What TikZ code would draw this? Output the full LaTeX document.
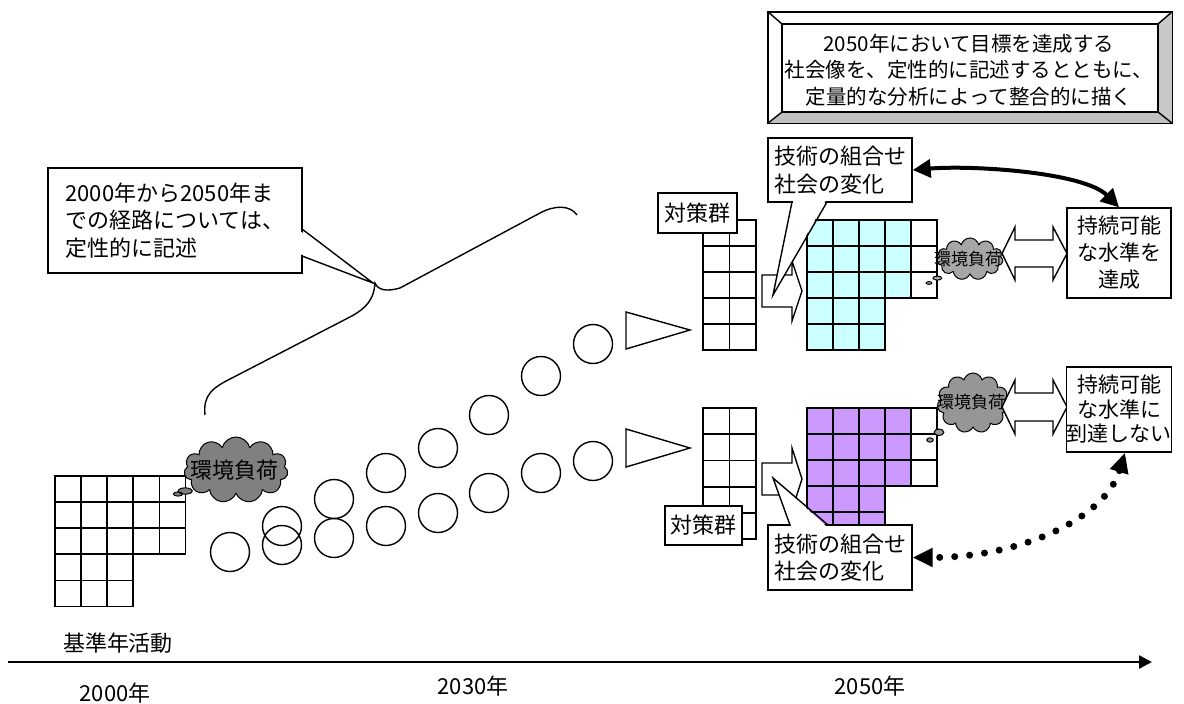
\documentclass[tikz,border=0pt]{standalone}
\usepackage{fontspec}
\setmainfont{Noto Sans CJK JP}
\usetikzlibrary{shapes.callouts,shapes.symbols,arrows.meta}
\definecolor{cyanfill}{HTML}{CCFFFF}
\definecolor{purfill}{HTML}{CC99FF}
\definecolor{cloudA}{HTML}{808080}
\definecolor{cloudB}{HTML}{A6A6A6}
\definecolor{cloudC}{HTML}{969696}
\definecolor{bevbot}{HTML}{C0C0C0}
\definecolor{bevright}{HTML}{C8C8C8}
\begin{document}
\begin{tikzpicture}[x=1pt,y=-1pt]
\tikzset{
  ln/.style={line width=1.4pt},
  cellw/.style={draw, line width=1.8pt},
  box/.style={draw, fill=white, line width=1.4pt, inner sep=0pt, align=center},
  fa/.style={font=\fontsize{21}{27}\selectfont},
  fb/.style={font=\fontsize{22}{27.5}\selectfont},
  fc/.style={font=\fontsize{17}{20}\selectfont},
  fd/.style={font=\fontsize{20.5}{26.7}\selectfont},
  ring/.style={draw, circle, minimum size=39pt, inner sep=0pt, line width=1.4pt},
  puff/.style={cloud callout, cloud puffs=11, cloud ignores aspect, draw, line width=1pt, inner sep=0pt,
     callout pointer start size=.18 of callout, callout pointer end size=.09 of callout},
  shp/.style={draw, line width=1.4pt, fill=white, line join=miter},
  thick arrow/.style={line width=4pt, {Triangle[length=18pt,width=18pt]}-{Triangle[length=18pt,width=18pt]}},
  dot arrow/.style={line width=7pt, line cap=round, dash pattern=on 0pt off 15pt,
     {Triangle[length=20pt,width=18pt]}-{Triangle[length=20pt,width=18pt]}},
}
\useasboundingbox (0,0) rectangle (1184,704);

% brace
\draw[ln] (205,415) .. controls (203,395) and (212,388) .. (232,378) -- (348,318)
  .. controls (368,308) and (374,298) .. (375,283)
  .. controls (378,290) and (386,292) .. (400,288) -- (540,213)
  .. controls (555,205) and (570,205) .. (577,215);

% left callout
\node[box, fb, align=left, minimum width=254pt, minimum height=105pt] (cb) at (175,220.5)
  {2000年から2050年ま\\での経路については、\\定性的に記述};
\fill[white] (300,231) -- (373,283) -- (300,254) -- cycle;
\draw[ln] (302,229) -- (373,283) -- (302,256);

% left grid
\foreach \r in {0,1,2} \foreach \c in {0,...,4}
  \draw[cellw] ({55+\c*26.1},{476+\r*26.1}) rectangle ++(26.1,26.1);
\foreach \r in {3,4} \foreach \c in {0,1,2}
  \draw[cellw] ({55+\c*26.1},{476+\r*26.1}) rectangle ++(26.1,26.1);

% left cloud
\node[puff, fill=cloudA, minimum width=104pt, minimum height=66pt, callout absolute pointer={(178,494)}] (cl0) at (236,470) {};
\node[fb] (cl0t) at (234,470) {環境負荷};

% circles
\foreach \n/\x/\y in {a1/230/552, a2/282/545, a3/334/538, a4/386/526, a5/438/513, a6/489/493, a7/541/473, a8/593/461,
  b1/282/526, b2/334/499, b3/386/473, b4/438/448, b5/489/415, b6/541/376, b7/593/344}
  \node[ring] (\n) at (\x,\y) {};

% wedges
\draw[shp] (626,312) -- (626,349) -- (690,330) -- cycle;
\draw[shp] (626,429) -- (626,467) -- (690,448) -- cycle;

% measure grids
\foreach \r in {0,...,4} \foreach \c in {0,1} {
  \draw[cellw] ({703+\c*26.5},{220+\r*26}) rectangle ++(26.5,26);
  \draw[cellw] ({703+\c*26.5},{408+\r*26.2}) rectangle ++(26.5,26.2);
}
\node[box, fb, minimum width=79pt, minimum height=40pt] (m1) at (697.5,213) {対策群};
\node[box, fb, minimum width=77pt, minimum height=39pt] (m2) at (703.5,525.5) {対策群};

% block arrows
\draw[shp] (762,275) -- (792,275) -- (792,261) -- (802,291) -- (792,321) -- (792,307) -- (762,307) -- cycle;
\draw[shp] (762,463) -- (792,463) -- (792,448) -- (802,479) -- (792,510) -- (792,495) -- (762,495) -- cycle;

% cyan grid
\foreach \r in {0,1,2} {
  \foreach \c in {0,...,3} \draw[cellw, fill=cyanfill] ({807+\c*26},{220+\r*26}) rectangle ++(26,26);
  \draw[cellw, fill=white] ({807+4*26},{220+\r*26}) rectangle ++(26,26);
}
\foreach \r in {3,4} \foreach \c in {0,1,2}
  \draw[cellw, fill=cyanfill] ({807+\c*26},{220+\r*26}) rectangle ++(26,26);

% purple grid
\foreach \r in {0,1,2} {
  \foreach \c in {0,...,3} \draw[cellw, fill=purfill] ({807+\c*26},{408+\r*26}) rectangle ++(26,26);
  \draw[cellw, fill=white] ({807+4*26},{408+\r*26}) rectangle ++(26,26);
}
\foreach \r in {3,4} \foreach \c in {0,1,2}
  \draw[cellw, fill=purfill] ({807+\c*26},{408+\r*26}) rectangle ++(26,26);

% technology callouts
\node[box, fb, align=left, minimum width=144pt, minimum height=64pt] (tk1) at (840,170) {技術の組合せ\\社会の変化};
\fill[white] (793.5,200) -- (773,295) -- (826,200) -- cycle;
\draw[ln] (792,202) -- (773,295) -- (827,202);
\node[box, fb, align=left, minimum width=144pt, minimum height=65pt] (tk2) at (840,557.5) {技術の組合せ\\社会の変化};
\fill[white] (791.5,527) -- (773,478) -- (827,527) -- cycle;
\draw[ln] (790,525) -- (773,478) -- (828,525);

% right clouds
\node[puff, fill=cloudB, minimum width=66pt, minimum height=42pt, callout absolute pointer={(929,283)}] (cl1) at (970,259) {};
\node[puff, fill=cloudC, minimum width=72pt, minimum height=60pt, callout absolute pointer={(930,440)}] (cl2) at (973,403) {};

% double arrows
\draw[shp] (1002,253.5) -- (1015,227) -- (1015,240) -- (1053,240) -- (1053,227) -- (1067,253.5)
  -- (1053,280) -- (1053,267) -- (1015,267) -- (1015,280) -- cycle;
\draw[shp] (1002,407) -- (1015,380) -- (1015,393) -- (1053,393) -- (1053,380) -- (1067,407)
  -- (1053,434) -- (1053,421) -- (1015,421) -- (1015,434) -- cycle;
\node[fc] (cl1t) at (968,259) {環境負荷};
\node[fc] (cl2t) at (971,402) {環境負荷};

% result boxes
\node[box, fa, minimum width=104pt, minimum height=90pt] (ra1) at (1119,253) {持続可能\\な水準を\\達成};
\node[box, fa, font=\fontsize{21}{24.5}\selectfont, minimum width=104pt, minimum height=85pt] (ra2) at (1119,409.5) {持続可能\\な水準に\\到達しない};

% connectors
\draw[thick arrow] (tk1.east) .. controls +(60,-5) and +(-35,-35) .. (ra1.north);
\draw[dot arrow] ([xshift=6pt]ra2.south) .. controls +(-20,65) and +(110,0) .. (tk2.east);

% top bevel box
\node[box, minimum width=404pt, minimum height=111pt] (goal) at (970,67.5) {};
\coordinate (gi1) at (782,24);
\coordinate (gi2) at (1158,112);
\fill[bevbot] (goal.south west) -- (gi1 |- gi2) -- (gi2) -- (goal.south east) -- cycle;
\fill[bevright] (goal.north east) -- (gi2 |- gi1) -- (gi2) -- (goal.south east) -- cycle;
\draw[ln] (goal.south west) rectangle (goal.north east);
\draw[ln] (gi1) rectangle (gi2);
\draw[ln] (goal.north west) -- (gi1) (goal.north east) -- (gi2 |- gi1)
  (goal.south west) -- (gi1 |- gi2) (goal.south east) -- (gi2);
\node[fd, align=center] (goalt) at (969,70) {2050年において目標を達成する\\社会像を、定性的に記述するとともに、\\定量的な分析によって整合的に描く};

% axis
\coordinate (ax0) at (8,662);
\coordinate (ax1) at (1152,662);
\draw[line width=2.6pt, -{Triangle[length=13pt,width=13pt]}] (ax0) -- (ax1);
\node[fb] (lbase) at (118,643) {基準年活動};
\node[fb] (l2000) at (115,693) {2000年};
\node[fb] (l2030) at (473,686) {2030年};
\node[fb] (l2050) at (870,686) {2050年};
\end{tikzpicture}
\end{document}
